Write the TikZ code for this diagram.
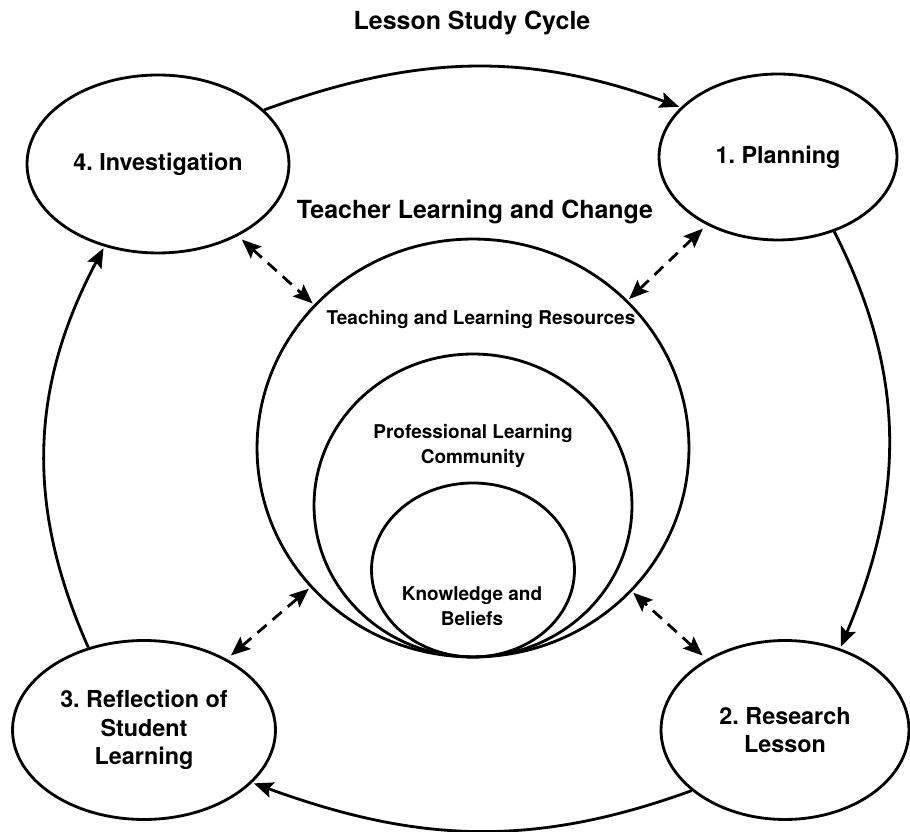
\documentclass[tikz,border=0pt]{standalone}
\usepackage{fontspec}
\setmainfont{TeX Gyre Heros}
\frenchspacing
\usetikzlibrary{arrows.meta,shapes.geometric,positioning}

\begin{document}
\begin{tikzpicture}[x=0.02cm,y=0.02cm,>={Stealth[length=11pt,width=9pt,inset=2pt]},shorten >=1pt,line width=1.6pt,align=center,
		stage/.style={ellipse,draw,inner sep=0pt,font=\fontsize{13.3}{16.4}\selectfont\bfseries},
		ring/.style={ellipse,draw,inner sep=0pt},
		caption/.style={inner sep=0pt,font=\fontsize{14.2}{17}\selectfont\bfseries},
		ringtext/.style={inner sep=0pt,font=\fontsize{10.8}{14}\selectfont\bfseries},
		dashlink/.style={<->,dash pattern=on 0.24cm off 0.16cm,shorten <=3pt}]
		\useasboundingbox (0,0) rectangle (910,832);
		\node[caption,anchor=base] (title) at (472,802) {Lesson Study Cycle};
		% the four stages of the cycle
		\node[stage,minimum width=5.24cm,minimum height=3.56cm] (inv) at (158,668) {4. Investigation};
		\node[stage,minimum width=4.76cm,minimum height=3.32cm] (plan) at (778,675) {1. Planning};
		\node[stage,minimum width=4.96cm,minimum height=3.58cm] (res) at (785,102) {2. Research\\Lesson};
		\node[stage,minimum width=5.26cm,minimum height=3.58cm] (refl) at (144,102) {3. Reflection of\\Student\\Learning};
		% nested rings in the middle
		\node[ring,minimum width=8.64cm,minimum height=8.36cm] (tlr) at (473,384) {};
		\node[ring,minimum width=6.36cm,minimum height=6.06cm,anchor=south] (plc) at (tlr.south) {};
		\node[ring,minimum width=4.06cm,minimum height=3.48cm,anchor=south] (kb) at (tlr.south) {};
		\node[caption,anchor=base] (change) at (475,613) {Teacher Learning and Change};
		\node[ringtext,anchor=base] (tlrtext) at (481,507) {Teaching and Learning Resources};
		\node[ringtext] (plctext) at (473,386) {Professional Learning\\Community};
		\node[ringtext] (kbtext) at (472,226) {Knowledge and\\Beliefs};
		\path[->]
			(inv.27) edge [out=20,in=160] (plan.153)
			(plan.-53) edge [out=-63,in=67] (res.56)
			(res.213) edge [out=200,in=-20] (refl.-26)
			(refl.124) edge [out=114,in=242] (inv.237);
		\path[dashlink]
			(inv) edge (tlr)
			(plan) edge (tlr)
			(res) edge (tlr)
			(refl) edge (tlr);
	\end{tikzpicture}
\end{document}
